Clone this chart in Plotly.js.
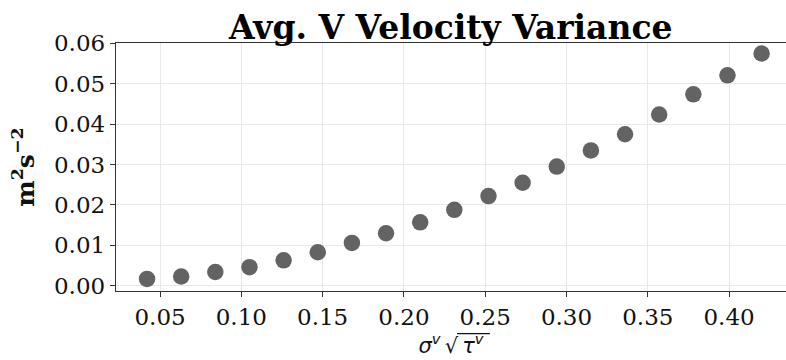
<!DOCTYPE html>
<html>
<head>
<meta charset="utf-8">
<script src="https://cdn.plot.ly/plotly-3.0.1.min.js"></script>
<style>html,body{margin:0;padding:0;background:#fff;}#chart{width:786px;height:360px;}</style>
</head>
<body>
<div id="chart"></div>
<script>
var xValues = [0.042, 0.063, 0.084, 0.105, 0.126, 0.147, 0.168, 0.189, 0.210, 0.231,
               0.252, 0.273, 0.294, 0.315, 0.336, 0.357, 0.378, 0.399, 0.420];
var yValues = [0.0017, 0.0023, 0.0034, 0.0046, 0.0063, 0.0083, 0.0106, 0.0130, 0.0157, 0.0188,
               0.0222, 0.0255, 0.0295, 0.0335, 0.0375, 0.0424, 0.0474, 0.0521, 0.0575];
var xTicks = [0.05, 0.10, 0.15, 0.20, 0.25, 0.30, 0.35, 0.40];
var xTickLabels = ["0.05", "0.10", "0.15", "0.20", "0.25", "0.30", "0.35", "0.40"];
var yTicks = [0.00, 0.01, 0.02, 0.03, 0.04, 0.05, 0.06];
var yTickLabels = ["0.00", "0.01", "0.02", "0.03", "0.04", "0.05", "0.06"];
var chartTitle = "Avg. V Velocity Variance";

var trace = {
  x: xValues, y: yValues, type: "scatter", mode: "markers",
  marker: {color: "#636363", size: 16.5}, hoverinfo: "skip"
};
var serif = "DejaVu Serif, serif";
var layout = {
  width: 786, height: 360,
  margin: {l: 116, r: 0, t: 43, b: 69},
  paper_bgcolor: "#fff", plot_bgcolor: "#fff",
  showlegend: false,
  title: {text: "<b>" + chartTitle + "</b>", font: {family: serif, size: 33, color: "#000"},
          x: 0.5735, xanchor: "center", y: 0.893, yanchor: "bottom"},
  xaxis: {
    range: [0.0229, 0.435], tickvals: xTicks, ticktext: xTickLabels,
    showgrid: true, gridcolor: "#e8e8e8", gridwidth: 1, zeroline: false,
    showline: true, linecolor: "#333", linewidth: 1.2, mirror: true,
    ticks: "outside", ticklen: 5, tickcolor: "#333",
    tickfont: {family: serif, size: 23, color: "#111"},
    title: {text: "<i>σ<sup>v</sup>\u2009√\u2009τ<sup>v</sup></i>", font: {family: "DejaVu Sans, sans-serif", size: 21, color: "#111"}, standoff: 4}
  },
  yaxis: {
    range: [-0.0013, 0.0601], tickvals: yTicks, ticktext: yTickLabels,
    showgrid: true, gridcolor: "#e8e8e8", gridwidth: 1, zeroline: false,
    showline: true, linecolor: "#333", linewidth: 1.2,
    ticks: "outside", ticklen: 5, tickcolor: "#333",
    tickfont: {family: serif, size: 23, color: "#111"},
    title: {text: "<b>m<sup>2</sup>s<sup>−2</sup></b>", font: {family: serif, size: 25, color: "#111"}, standoff: 12}
  },
  shapes: [{type: "line", xref: "paper", yref: "paper", x0: 0.509, x1: 0.558, y0: -0.172, y1: -0.172,
            line: {color: "#111", width: 1.2}}]
};
Plotly.newPlot("chart", [trace], layout, {displayModeBar: false, staticPlot: true});
</script>
</body>
</html>
